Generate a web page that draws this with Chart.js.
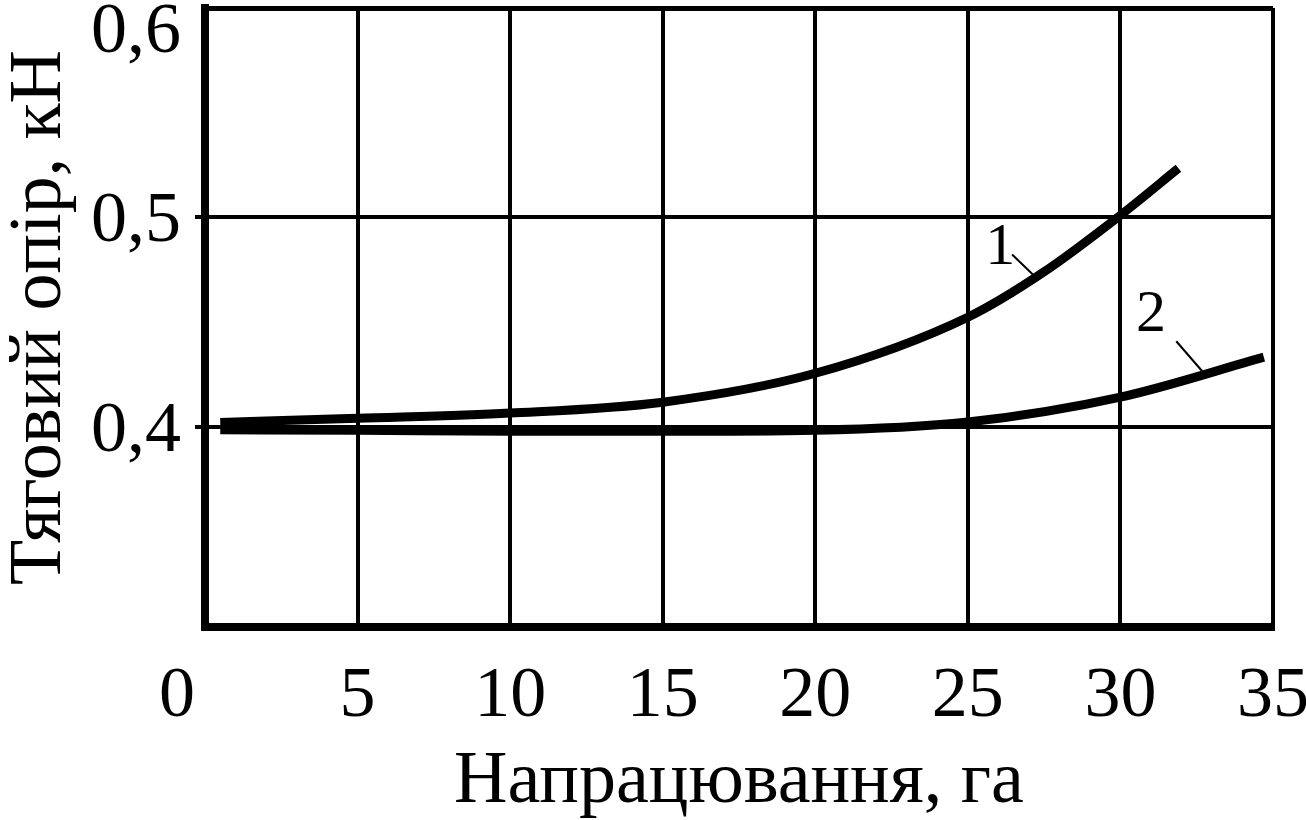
<!DOCTYPE html>
<html>
<head>
<meta charset="utf-8">
<script src="https://cdn.jsdelivr.net/npm/chart.js@4/dist/chart.umd.min.js"></script>
<style>
  html, body { margin: 0; padding: 0; background: #fff; }
</style>
</head>
<body>
<canvas id="canvas" width="1306" height="820"></canvas>
<script>
// tick values
const xTicks = [0, 5, 10, 15, 20, 25, 30, 35];
const yTicks = [0.4, 0.5, 0.6];
const xTickLabels = ['0', '5', '10', '15', '20', '25', '30', '35'];
const yTickLabels = ['0,4', '0,5', '0,6'];

// curve 1
const curve1X = [0.5, 5, 10, 15, 20, 25, 27.5, 30, 31.9];
const curve1Y = [0.402, 0.404, 0.4065, 0.4117, 0.4255, 0.4523, 0.474, 0.501, 0.5234];

// curve 2
const curve2X = [0.5, 5, 10, 15, 20, 25, 30, 34.7];
const curve2Y = [0.3985, 0.3983, 0.3978, 0.3978, 0.3983, 0.4022, 0.4141, 0.4332];

const xTitle = 'Напрацювання, га';
const yTitle = 'Тяговий опір, кН';

// curve numbers with their leader lines (data coords)
const curveLabels = [
    { text: '1', x: 26.06, y: 0.4776, from: [26.45, 0.4822], to: [27.3, 0.4703] },
    { text: '2', x: 31.0, y: 0.4456, from: [31.83, 0.4408], to: [32.71, 0.4260] }
];

const serif = '"Liberation Serif", "Times New Roman", serif';

function toPoints(xs, ys) {
    return xs.map((x, i) => ({ x: x, y: ys[i] }));
}

const textPlugin = {
    id: 'textPlugin',
    afterDraw(chart) {
        const ctx = chart.ctx;
        const xs = chart.scales.x;
        const ys = chart.scales.y;
        const area = chart.chartArea;
        ctx.save();
        ctx.fillStyle = '#000';
        ctx.font = '72px ' + serif;
        ctx.textBaseline = 'alphabetic';

        // x tick labels
        xTicks.forEach((v, i) => {
            const px = xs.getPixelForValue(v);
            if (i === 0) {
                ctx.textAlign = 'right';
                ctx.fillText(xTickLabels[i], px - 10, 716);
            } else {
                ctx.textAlign = 'center';
                ctx.fillText(xTickLabels[i], px, 716);
            }
        });

        // y tick labels
        ctx.textAlign = 'right';
        yTicks.forEach((v, i) => {
            const py = Math.max(ys.getPixelForValue(v) + 24, 52);
            ctx.fillText(yTickLabels[i], 181, py);
        });

        // axis titles
        ctx.font = '74px ' + serif;
        ctx.textAlign = 'center';
        ctx.fillText(xTitle, (area.left + area.right) / 2, 802);

        ctx.save();
        ctx.translate(60, (area.top + area.bottom) / 2);
        ctx.rotate(-Math.PI / 2);
        ctx.fillText(yTitle, 0, 0);
        ctx.restore();

        // curve numbers
        ctx.font = '60px ' + serif;
        ctx.textAlign = 'center';
        ctx.textBaseline = 'alphabetic';
        ctx.strokeStyle = '#000';
        ctx.lineWidth = 2;
        curveLabels.forEach(l => {
            ctx.fillText(l.text, xs.getPixelForValue(l.x), ys.getPixelForValue(l.y));
            ctx.beginPath();
            ctx.moveTo(xs.getPixelForValue(l.from[0]), ys.getPixelForValue(l.from[1]));
            ctx.lineTo(xs.getPixelForValue(l.to[0]), ys.getPixelForValue(l.to[1]));
            ctx.stroke();
        });
        ctx.restore();
    }
};

const canvasCTX = document.getElementById('canvas').getContext('2d');

const grafico = new Chart(canvasCTX, {
    type: 'line',
    data: {
        datasets: [{
            label: '1',
            data: toPoints(curve1X, curve1Y),
            borderColor: '#000',
            borderWidth: 9,
            pointRadius: 0,
            cubicInterpolationMode: 'monotone',
            borderCapStyle: 'butt'
        }, {
            label: '2',
            data: toPoints(curve2X, curve2Y),
            borderColor: '#000',
            borderWidth: 9,
            pointRadius: 0,
            cubicInterpolationMode: 'monotone',
            borderCapStyle: 'butt'
        }]
    },
    options: {
        responsive: false,
        animation: false,
        devicePixelRatio: 1,
        layout: {
            padding: { top: 8, left: 195, right: 33, bottom: 193 }
        },
        plugins: {
            legend: { display: false },
            tooltip: { enabled: false }
        },
        scales: {
            x: {
                type: 'linear',
                min: 0,
                max: 35,
                afterBuildTicks: s => { s.ticks = xTicks.map(v => ({ value: v })); },
                ticks: { display: false },
                grid: { color: '#000', lineWidth: 4, drawTicks: false },
                border: { color: '#000', width: 8 }
            },
            y: {
                type: 'linear',
                min: 0.3043,
                max: 0.6,
                afterBuildTicks: s => { s.ticks = yTicks.map(v => ({ value: v })); },
                ticks: { display: false },
                grid: {
                    color: '#000',
                    lineWidth: c => (c.tick && c.tick.value === 0.6 ? 5 : 4),
                    drawTicks: true,
                    tickLength: 10,
                    tickColor: c => (c.tick && c.tick.value === 0.6 ? 'rgba(0,0,0,0)' : '#000')
                },
                border: { color: '#000', width: 8 }
            }
        }
    },
    plugins: [textPlugin]
});
</script>
</body>
</html>
